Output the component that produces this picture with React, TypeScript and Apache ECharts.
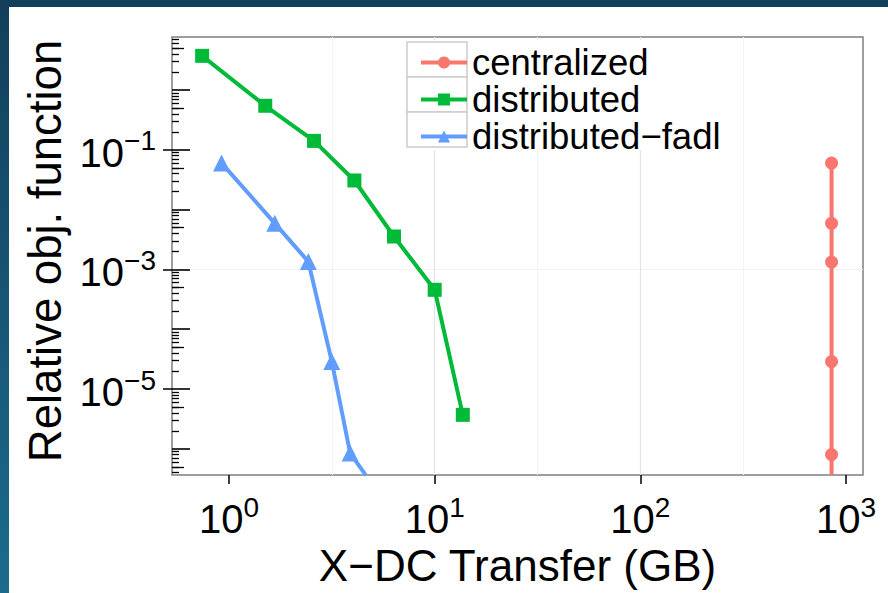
import React, { useEffect, useRef } from "react";
import * as echarts from "echarts";

// ---- data ----
const seriesNames = ["centralized", "distributed", "distributed−fadl"];
const seriesColors = ["#F8766D", "#00BA38", "#619CFF"];

const centralizedTransfer = [851, 851, 851, 851, 851, 851];
const centralizedObj = [0.06, 5.9e-3, 1.33e-3, 2.88e-5, 8.0e-7, 3.6e-7];

const distributedTransfer = [0.74, 1.5, 2.59, 4.07, 6.34, 10.0, 13.7];
const distributedObj = [3.73, 0.545, 0.141, 0.0307, 3.55e-3, 4.56e-4, 3.7e-6];

const fadlTransfer = [0.92, 1.67, 2.43, 3.16, 3.88, 4.63];
const fadlObj = [0.06, 5.9e-3, 1.35e-3, 2.88e-5, 8.5e-7, 3.6e-7];

// ---- axes ----
const xLabelValues = [1, 10, 100, 1000];
const yLabelValues = [1e-1, 1e-3, 1e-5];
const yDecadeValues = [1, 1e-1, 1e-2, 1e-3, 1e-4, 1e-5, 1e-6];
const yMidValues = [5, 5e-1, 5e-2, 5e-3, 5e-4, 5e-5, 5e-6, 5e-7];
const X_MIN = 0.528;
const X_MAX = 1210;
const Y_MIN = 3.65e-7;
const Y_MAX = 7.7;
const X_TITLE = "X−DC Transfer (GB)";
const Y_TITLE = "Relative obj. function";

const FONT = "'Liberation Sans', Arial, Helvetica, sans-serif";

const powLabel = (v: number) => {
  const e = Math.round(Math.log10(v));
  return `{b|10}{s|${e < 0 ? "−" + -e : e}}`;
};

const labelRich = {
  b: { fontSize: 40, color: "#000", fontFamily: FONT, verticalAlign: "bottom", lineHeight: 46 },
  s: { fontSize: 28, color: "#000", fontFamily: FONT, verticalAlign: "top" },
};

const pairs = (xs: number[], ys: number[]) => xs.map((x, i) => [x, ys[i]]);

export default function App() {
  const ref = useRef<HTMLDivElement>(null);

  useEffect(() => {
    if (!ref.current) return;
    const chart = echarts.init(ref.current, undefined, { renderer: "svg" });
    const shift = Math.sqrt(10);
    const hiddenAxis = {
      axisLine: { show: false },
      axisLabel: { show: false },
      splitLine: { show: false },
    };
    const lineSeries = (i: number, data: number[][], symbol: string, size: number) => ({
      name: seriesNames[i],
      type: "line",
      data,
      symbol,
      symbolSize: size,
      lineStyle: { width: 4, color: seriesColors[i] },
      itemStyle: { color: seriesColors[i] },
      z: 2,
    });

    chart.setOption({
      animation: false,
      textStyle: { fontFamily: FONT },
      grid: {
        left: 172,
        top: 37,
        width: 691,
        height: 438,
        show: true,
        borderColor: "#7f7f7f",
        borderWidth: 1.5,
        backgroundColor: "#fff",
      },
      legend: {
        orient: "vertical",
        left: 414,
        top: 39,
        itemWidth: 46,
        itemHeight: 15,
        itemGap: 0,
        z: 5,
        data: seriesNames,
        lineStyle: { width: 4 },
        textStyle: { fontSize: 36.5, color: "#000", lineHeight: 35, padding: [0, 0, 0, 0], fontFamily: FONT },
      },
      graphic: [
        { type: "rect", z: 4, shape: { x: 404, y: 40, width: 306, height: 110 }, style: { fill: "#fff" } },
        ...[0, 1, 2].map((i) => ({
          type: "rect",
          z: 4,
          shape: { x: 407, y: 42 + i * 35, width: 60, height: 35 },
          style: { fill: "#fff", stroke: "#cccccc", lineWidth: 1.5 },
        })),
      ],
      xAxis: [
        {
          type: "log",
          logBase: 10,
          min: X_MIN,
          max: X_MAX,
          name: X_TITLE,
          nameLocation: "middle",
          nameGap: 58,
          nameTextStyle: { fontSize: 44, color: "#000", fontFamily: FONT },
          axisLine: { show: false },
          axisTick: { show: true, length: 9, lineStyle: { color: "#000", width: 1.5 }, customValues: xLabelValues },
          axisLabel: { customValues: xLabelValues, formatter: powLabel, margin: 18, rich: labelRich },
          splitLine: { show: true, showMinLine: false, showMaxLine: false, lineStyle: { color: "#e3e3e3", width: 1.2 } },
        },
        {
          type: "log",
          logBase: 10,
          min: X_MIN * shift,
          max: X_MAX * shift,
          position: "bottom",
          axisLine: { show: false },
          axisTick: { show: false },
          axisLabel: { show: false },
          splitLine: { show: true, showMinLine: false, showMaxLine: false, lineStyle: { color: "#f3f3f3", width: 1 } },
        },
      ],
      yAxis: [
        {
          type: "log",
          logBase: 10,
          min: Y_MIN,
          max: Y_MAX,
          name: Y_TITLE,
          nameLocation: "middle",
          nameGap: 93,
          nameTextStyle: { fontSize: 45.5, color: "#000", fontFamily: FONT, padding: [0, 0, 0, 10] },
          axisLine: { show: false },
          axisTick: { show: true, length: 9, lineStyle: { color: "#000", width: 1.5 }, customValues: yLabelValues },
          axisLabel: { customValues: yLabelValues, formatter: powLabel, margin: 16, rich: labelRich },
          splitLine: {
            show: true,
            showMinLine: false,
            showMaxLine: false,
            lineStyle: { color: ["#f3f3f3", "#e3e3e3"], width: 1.2 },
          },
        },
        {
          type: "log",
          logBase: 10,
          min: Y_MIN,
          max: Y_MAX,
          position: "left",
          ...hiddenAxis,
          axisTick: { show: true, inside: true, length: 18, lineStyle: { color: "#000", width: 1.6 }, customValues: yDecadeValues },
          minorTick: { show: true, splitNumber: 9, length: 7, lineStyle: { color: "#000", width: 1.3 } },
        },
        {
          type: "log",
          logBase: 10,
          min: Y_MIN,
          max: Y_MAX,
          position: "left",
          ...hiddenAxis,
          axisTick: { show: true, inside: true, length: 12, lineStyle: { color: "#000", width: 1.3 }, customValues: yMidValues },
        },
      ],
      series: [
        lineSeries(0, pairs(centralizedTransfer, centralizedObj), "circle", 13),
        lineSeries(1, pairs(distributedTransfer, distributedObj), "rect", 14),
        lineSeries(2, pairs(fadlTransfer, fadlObj), "triangle", 17),
      ],
    });
    return () => chart.dispose();
  }, []);

  return (
    <div style={{ position: "absolute", left: 0, top: 0, width: 888, height: 593, background: "#fff", overflow: "hidden" }}>
      <div ref={ref} style={{ position: "absolute", left: 0, top: 0, width: 888, height: 593 }} />
      <div style={{ position: "absolute", left: 0, top: 0, width: 888, height: 7, background: "#123f5a" }} />
      <div
        style={{
          position: "absolute",
          left: 0,
          top: 0,
          width: 9,
          height: 593,
          background: "linear-gradient(#123f5a, #1b6b8d)",
        }}
      />
    </div>
  );
}
